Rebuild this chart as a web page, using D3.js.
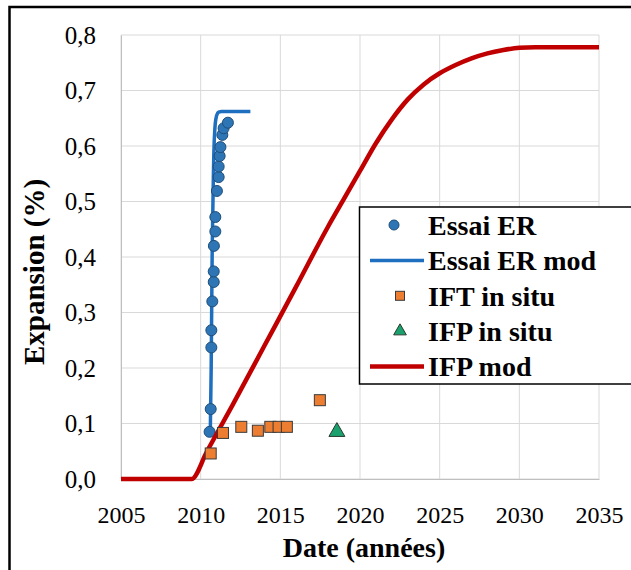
<!DOCTYPE html>
<html>
<head>
<meta charset="utf-8">
<script src="https://cdn.jsdelivr.net/npm/d3@7"></script>
<style>
  body { margin: 0; background: #fff; }
  svg { display: block; }
  svg text { font-family: 'Liberation Serif', 'DejaVu Serif', serif; }
</style>
</head>
<body>
<div id="chart"></div>
<script>
const yearTicks = [2005, 2010, 2015, 2020, 2025, 2030, 2035];
const expansionTicks = [0, 0.1, 0.2, 0.3, 0.4, 0.5, 0.6, 0.7, 0.8];

// Essai ER (points)
const essaiYears = [2010.56, 2010.63, 2010.67, 2010.67, 2010.73, 2010.82, 2010.82, 2010.83, 2010.92,
  2010.92, 2011.02, 2011.13, 2011.13, 2011.19, 2011.24, 2011.36, 2011.44, 2011.71];
const essaiValues = [0.085, 0.126, 0.237, 0.268, 0.32, 0.355, 0.374, 0.42, 0.446,
  0.472, 0.519, 0.544, 0.563, 0.582, 0.598, 0.62, 0.632, 0.642];

// Essai ER mod (line)
const essaiModYears = [2010.60, 2010.66, 2010.72, 2010.80, 2010.87, 2010.95, 2011.08, 2011.30, 2013.12];
const essaiModValues = [0.076, 0.2, 0.4, 0.55, 0.62, 0.648, 0.66, 0.662, 0.662];

// IFT in situ
const iftYears = [2010.63, 2011.40, 2012.55, 2013.59, 2014.37, 2014.89, 2015.41, 2017.48];
const iftValues = [0.046, 0.083, 0.094, 0.087, 0.094, 0.094, 0.094, 0.142];

// IFP in situ
const ifpYears = [2018.55];
const ifpValues = [0.085];

// IFP mod
const ifpModYears = [2005, 2009.42, 2010.4, 2012, 2014, 2016, 2018, 2019, 2020, 2021, 2022,
  2023, 2024, 2025, 2026, 2027, 2028, 2029, 2030, 2031, 2035];
const ifpModValues = [0, 0, 0.05, 0.133, 0.24, 0.347, 0.455, 0.505, 0.555, 0.605, 0.648,
  0.684, 0.711, 0.731, 0.746, 0.758, 0.767, 0.773, 0.777, 0.778, 0.778];

const legendLabels = ['Essai ER', 'Essai ER mod', 'IFT in situ', 'IFP in situ', 'IFP mod'];

const zip = (xs, ys) => xs.map((x, i) => ({ x, y: ys[i] }));

class ExpansionChart {
  constructor() {
    this.width = 631;
    this.height = 570;
    this.plot = { left: 121, right: 599, top: 35, bottom: 479 };

    this.svg = d3.select('#chart').append('svg')
      .attr('width', this.width)
      .attr('height', this.height);

    this.x = d3.scaleLinear().domain([2005, 2035]).range([this.plot.left, this.plot.right]);
    this.y = d3.scaleLinear().domain([0, 0.8]).range([this.plot.bottom, this.plot.top]);

    this.drawFrame();
    this.drawGrid();
    this.drawAxes();
    this.drawSeries();
    this.drawLegend();
  }

  drawFrame() {
    this.svg.append('rect')
      .attr('width', this.width).attr('height', this.height)
      .attr('fill', '#fff');
    this.svg.append('rect')
      .attr('x', 9.5).attr('y', 7)
      .attr('width', 700).attr('height', 700)
      .attr('fill', 'none')
      .attr('stroke', '#000')
      .attr('stroke-width', 2.5);
  }

  drawGrid() {
    const g = this.svg.append('g').attr('class', 'grid');
    g.selectAll('line.h').data(expansionTicks).join('line')
      .attr('x1', this.plot.left).attr('x2', this.plot.right)
      .attr('y1', d => this.y(d)).attr('y2', d => this.y(d))
      .attr('stroke', '#d9d9d9').attr('stroke-width', 1);
    g.selectAll('line.v').data(yearTicks).join('line')
      .attr('x1', d => this.x(d)).attr('x2', d => this.x(d))
      .attr('y1', this.plot.top).attr('y2', this.plot.bottom)
      .attr('stroke', '#d9d9d9').attr('stroke-width', 1);
  }

  drawAxes() {
    const fmt = d => d3.format('.1f')(d).replace('.', ',');

    const xAxis = this.svg.append('g')
      .attr('transform', `translate(0,${this.plot.bottom})`)
      .call(d3.axisBottom(this.x).tickValues(yearTicks).tickFormat(d3.format('d')).tickSize(0).tickPadding(0));
    xAxis.attr('font-family', null);
    xAxis.select('.domain').attr('stroke', '#bfbfbf');
    xAxis.selectAll('text')
      .attr('y', 44).attr('dy', 0)
      .style('font-size', '24px').attr('fill', '#000');

    const yAxis = this.svg.append('g')
      .attr('transform', `translate(${this.plot.left},0)`)
      .call(d3.axisLeft(this.y).tickValues(expansionTicks).tickFormat(fmt).tickSize(0).tickPadding(25));
    yAxis.attr('font-family', null);
    yAxis.select('.domain').attr('stroke', '#bfbfbf');
    yAxis.selectAll('text')
      .style('font-size', '25px').attr('fill', '#000');

    this.svg.append('text')
      .attr('x', 364)
      .attr('y', 557)
      .attr('text-anchor', 'middle')
      .style('font-size', '28px').style('font-weight', 'bold')
      .text('Date (années)');

    this.svg.append('text')
      .attr('transform', 'translate(44,272) rotate(-90)')
      .attr('text-anchor', 'middle')
      .style('font-size', '29px').style('font-weight', 'bold')
      .text('Expansion (%)');
  }

  drawSeries() {
    const line = d3.line().x(d => this.x(d.x)).y(d => this.y(d.y)).curve(d3.curveMonotoneX);
    const lineY = d3.line().x(d => this.x(d.x)).y(d => this.y(d.y)).curve(d3.curveMonotoneY);

    this.svg.append('path')
      .datum(zip(essaiModYears, essaiModValues))
      .attr('fill', 'none')
      .attr('stroke', '#1f6fc0')
      .attr('stroke-width', 3.5)
      .attr('d', lineY);

    this.svg.append('g').selectAll('circle')
      .data(zip(essaiYears, essaiValues)).join('circle')
      .attr('cx', d => this.x(d.x)).attr('cy', d => this.y(d.y))
      .attr('r', 5.5)
      .attr('fill', '#2e75b6').attr('stroke', '#1f4e79').attr('stroke-width', 1);

    this.svg.append('path')
      .datum(zip(ifpModYears, ifpModValues))
      .attr('fill', 'none')
      .attr('stroke', '#c00000')
      .attr('stroke-width', 4.5)
      .attr('d', line);

    const sq = 11;
    this.svg.append('g').selectAll('rect')
      .data(zip(iftYears, iftValues)).join('rect')
      .attr('x', d => this.x(d.x) - sq / 2).attr('y', d => this.y(d.y) - sq / 2)
      .attr('width', sq).attr('height', sq)
      .attr('fill', '#ed7d31').attr('stroke', '#3a3a3a').attr('stroke-width', 1);

    const tri = d3.symbol().type(d3.symbolTriangle).size(110);
    this.svg.append('g').selectAll('path')
      .data(zip(ifpYears, ifpValues)).join('path')
      .attr('transform', d => `translate(${this.x(d.x)},${this.y(d.y)})`)
      .attr('d', tri)
      .attr('fill', '#1ba16e').attr('stroke', '#2a3a30').attr('stroke-width', 1);
  }

  drawLegend() {
    const g = this.svg.append('g');
    g.append('rect')
      .attr('x', 359.5).attr('y', 207)
      .attr('width', 300).attr('height', 177)
      .attr('fill', '#fff')
      .attr('stroke', '#000').attr('stroke-width', 1.5);

    const rowY = i => 225 + i * 35.4;
    const symX = 398;

    g.append('circle').attr('cx', 394).attr('cy', rowY(0)).attr('r', 5)
      .attr('fill', '#2e75b6').attr('stroke', '#1f4e79');
    g.append('line').attr('x1', 370).attr('x2', 424).attr('y1', rowY(1)).attr('y2', rowY(1))
      .attr('stroke', '#1f6fc0').attr('stroke-width', 3.5);
    g.append('rect').attr('x', symX + 2 - 4.5).attr('y', rowY(2) - 4.5).attr('width', 9).attr('height', 9)
      .attr('fill', '#ed7d31').attr('stroke', '#3a3a3a');
    g.append('path').attr('transform', `translate(${symX + 2},${rowY(3)})`)
      .attr('d', d3.symbol().type(d3.symbolTriangle).size(70))
      .attr('fill', '#1ba16e').attr('stroke', '#2a3a30');
    g.append('line').attr('x1', 370).attr('x2', 424).attr('y1', rowY(4)).attr('y2', rowY(4))
      .attr('stroke', '#c00000').attr('stroke-width', 4.5);

    g.selectAll('text').data(legendLabels).join('text')
      .attr('x', 428)
      .attr('y', (d, i) => rowY(i))
      .attr('dy', '0.35em')
      .style('font-size', '28px').style('font-weight', 'bold')
      .text(d => d);
  }
}

const chart = new ExpansionChart();
</script>
</body>
</html>
